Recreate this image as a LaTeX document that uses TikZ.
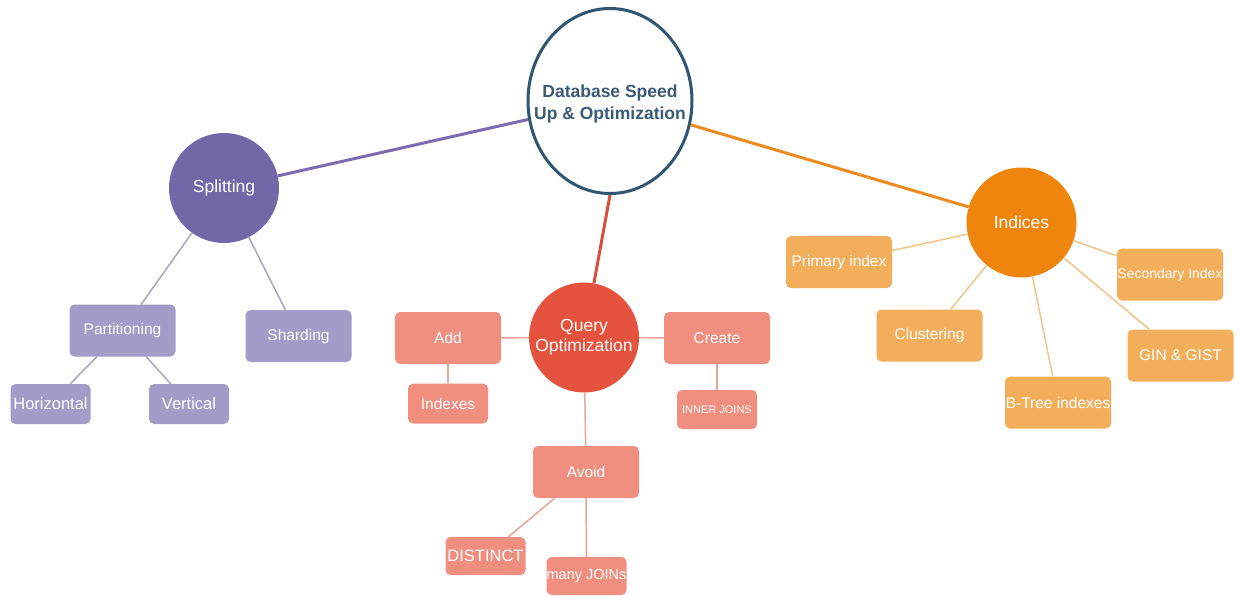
\documentclass[tikz,border=0pt]{standalone}
\usepackage{fontspec}
\setmainfont{Liberation Sans}
\usetikzlibrary{shapes.geometric}
\definecolor{mainline}{HTML}{2F5673}
\definecolor{maintext}{HTML}{3A5A78}
\definecolor{purpdark}{HTML}{7268A8}
\definecolor{purplight}{HTML}{A19CC8}
\definecolor{purpthin}{HTML}{A9A5BA}
\definecolor{purpthick}{HTML}{7B6CB0}
\definecolor{reddark}{HTML}{E5533E}
\definecolor{redlight}{HTML}{F08E80}
\definecolor{redthin}{HTML}{E9A596}
\definecolor{redthick}{HTML}{D94F3C}
\definecolor{orgdark}{HTML}{F0850D}
\definecolor{orglight}{HTML}{F3AE5C}
\definecolor{orgthin}{HTML}{F2C48A}
\definecolor{orgthick}{HTML}{EE8B20}
\tikzset{
  hub/.style={circle, minimum size=110pt, inner sep=0pt, text=white,
    font=\fontsize{17.5}{20}\selectfont, align=center},
  leaf/.style={rectangle, rounded corners=5pt, minimum width=106pt,
    minimum height=52pt, inner sep=0pt, text=white,
    font=\fontsize{15.5}{18}\selectfont},
  small/.style={leaf, minimum width=80pt, minimum height=40pt},
  thin/.style={line width=1.5pt},
  thick/.style={line width=3pt}
}
\begin{document}
\begin{tikzpicture}[x=1pt,y=-1pt]
\useasboundingbox (0,0) rectangle (1239,595);

% central topic: the oval outline, then its title on top
\node[ellipse, draw=mainline, line width=3pt, fill=white, minimum width=164pt,
  minimum height=185pt, inner sep=0pt] (main) at (610,101) {};
\node[text=maintext, align=center, inner sep=0pt,
  font=\bfseries\fontsize{17.5}{21.5}\selectfont] (title) at ([yshift=-3pt]main.center)
  {Database Speed\\Up \& Optimization};

% splitting branch
\node[hub, fill=purpdark] (split) at (224,188) {Splitting};
\node[leaf, fill=purplight] (part) at (122.5,330.5) {Partitioning};
\node[leaf, fill=purplight] (shard) at (298.5,336) {Sharding};
\node[small, fill=purplight, font=\fontsize{16.5}{19}\selectfont] (horiz) at (50.5,404) {Horizontal};
\node[small, fill=purplight, font=\fontsize{16.5}{19}\selectfont] (vert) at (189,404) {Vertical};

% query optimization branch
\node[hub, fill=reddark] (query) at (584,337.5) {Query\\Optimization};
\node[leaf, fill=redlight] (add) at (448,338) {Add};
\node[leaf, fill=redlight] (create) at (717,338) {Create};
\node[small, fill=redlight] (indexes) at (448,403.5) {Indexes};
\node[small, fill=redlight, minimum height=39pt, font=\fontsize{11}{13}\selectfont] (inner) at (717,409.5) {INNER JOINS};
\node[leaf, fill=redlight] (avoid) at (586,472) {Avoid};
\node[small, fill=redlight, minimum height=38pt, font=\fontsize{16.5}{19}\selectfont] (distinct) at (485.5,556) {DISTINCT};
\node[small, fill=redlight, minimum height=38pt, font=\fontsize{14.5}{17}\selectfont] (many) at (586.5,576) {many JOINs};

% indices branch
\node[hub, fill=orgdark] (indices) at (1021.5,222.5) {Indices};
\node[leaf, fill=orglight] (primary) at (839,262) {Primary index};
\node[leaf, fill=orglight] (cluster) at (929.5,335.5) {Clustering};
\node[leaf, fill=orglight] (btree) at (1058,402.5) {B-Tree indexes};
\node[leaf, fill=orglight, font=\fontsize{14}{16}\selectfont] (second) at (1170,274.5) {Secondary Index};
\node[leaf, fill=orglight] (gin) at (1180.5,355.5) {GIN \& GIST};

% connectors
\draw[thick, purpthick] (main) -- (split);
\draw[thick, redthick] (main.south) -- (query);
\draw[thick, orgthick] (main) -- (indices);

\draw[thin, purpthin] (split) -- (part);
\draw[thin, purpthin] (split) -- (shard);
\draw[thin, purpthin] (part) -- (horiz);
\draw[thin, purpthin] (part) -- (vert);

\draw[thin, redthin] (query) -- (add);
\draw[thin, redthin] (query) -- (create);
\draw[thin, redthin] (add) -- (indexes);
\draw[thin, redthin] (create) -- (inner);
\draw[thin, redthin] (query) -- (avoid);
\draw[thin, redthin] (avoid) -- (distinct);
\draw[thin, redthin] (avoid) -- (many);

\draw[thin, orgthin] (indices) -- (primary);
\draw[thin, orgthin] (indices) -- (cluster);
\draw[thin, orgthin] (indices) -- (btree);
\draw[thin, orgthin] (indices) -- (second);
\draw[thin, orgthin] (indices) -- (gin);
\end{tikzpicture}
\end{document}
